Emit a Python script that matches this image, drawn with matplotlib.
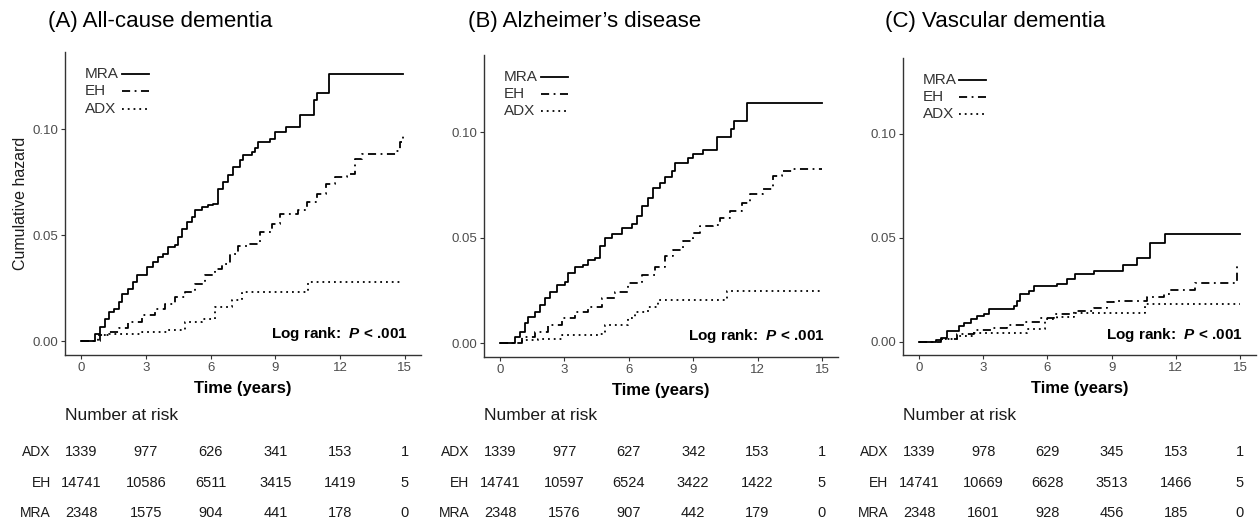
import matplotlib
matplotlib.use('Agg')
import matplotlib.pyplot as plt
from matplotlib.transforms import blended_transform_factory

plt.rcParams['font.family'] = ['Liberation Sans', 'DejaVu Sans']
plt.rcParams['mathtext.fontset'] = 'custom'
plt.rcParams['mathtext.bfit'] = 'Liberation Sans:italic:bold'
plt.rcParams['mathtext.rm'] = 'Liberation Sans'

# cumulative hazard curves (time in years, hazard)
# (A) all-cause dementia
a_mra_t = [0, 0.49, 0.65, 0.88, 1.11, 1.27, 1.5, 1.73, 1.88, 2.19, 2.42, 2.58, 3.04, 3.35, 3.58, 3.81, 4.04,
           4.35, 4.5, 4.66, 4.89, 5.12, 5.28, 5.59, 5.9, 6.13, 6.36, 6.59, 6.82, 7.05, 7.36, 7.52, 7.9, 8.06,
           8.21, 8.75, 8.98, 9.49, 10.14, 10.79, 10.94, 11.49, 14.92]
a_mra_h = [0, 0, 0.0036, 0.0068, 0.0107, 0.0138, 0.0154, 0.0185, 0.0225, 0.0248, 0.028, 0.0311, 0.035, 0.0374,
           0.0398, 0.0413, 0.0445, 0.0453, 0.0492, 0.0531, 0.0563, 0.0587, 0.0618, 0.0634, 0.0642, 0.065, 0.072,
           0.0752, 0.0783, 0.082, 0.0854, 0.0877, 0.0893, 0.0913, 0.094, 0.0955, 0.0987, 0.1011, 0.1066, 0.1137,
           0.1173, 0.126, 0.126]
a_eh_t = [0, 0.49, 0.88, 1.27, 1.73, 2.19, 2.81, 3.43, 3.89, 4.35, 4.81, 5.28, 5.74, 6.2, 6.51, 6.9, 7.28, 7.75,
          8.29, 8.83, 9.21, 10.06, 10.45, 10.91, 11.37, 11.76, 12.3, 12.69, 13.0, 14.61, 14.77, 14.92]
a_eh_h = [0, 0, 0.0028, 0.0044, 0.0063, 0.0091, 0.0123, 0.0154, 0.0178, 0.0209, 0.0233, 0.0272, 0.0311, 0.0343,
          0.0366, 0.0413, 0.045, 0.0461, 0.0516, 0.0555, 0.0599, 0.0618, 0.0657, 0.0697, 0.0744, 0.0775, 0.0791,
          0.0862, 0.0885, 0.0898, 0.094, 0.0983]
a_adx_t = [0, 0.57, 0.8, 1.27, 2.81, 4.04, 4.81, 5.59, 6.2, 6.98, 7.44, 10.52, 14.92]
a_adx_h = [0, 0, 0.0028, 0.0036, 0.0044, 0.0052, 0.0091, 0.0107, 0.0162, 0.0193, 0.0233, 0.0278, 0.0278]

# (B) alzheimer's disease
b_mra_t = [0, 0.54, 0.7, 0.93, 1.16, 1.32, 1.63, 1.86, 2.1, 2.33, 2.64, 3.03, 3.18, 3.49, 3.88, 4.11, 4.42,
           4.66, 4.89, 5.2, 5.67, 6.13, 6.37, 6.6, 6.91, 7.14, 7.45, 7.69, 8.0, 8.15, 8.77, 9.0, 9.47, 10.12,
           10.75, 10.9, 11.49, 15.0]
b_mra_h = [0, 0, 0.003, 0.0054, 0.0094, 0.0125, 0.0149, 0.0181, 0.0213, 0.0244, 0.0276, 0.0292, 0.0332, 0.0363,
           0.0371, 0.0395, 0.0406, 0.0459, 0.0498, 0.0517, 0.0546, 0.0565, 0.0601, 0.0649, 0.0689, 0.0737, 0.076,
           0.0789, 0.0816, 0.0852, 0.0875, 0.0895, 0.0916, 0.0978, 0.1014, 0.1051, 0.1138, 0.1138]
b_eh_t = [0, 0.62, 1.01, 1.63, 2.25, 2.87, 3.49, 4.11, 4.74, 5.36, 5.98, 6.6, 7.22, 7.69, 8.07, 8.54, 9.0, 9.32,
          9.94, 10.25, 10.71, 11.26, 11.64, 12.26, 12.73, 13.12, 13.66, 15.0]
b_eh_h = [0, 0, 0.003, 0.0054, 0.0086, 0.0118, 0.0146, 0.0173, 0.0213, 0.0244, 0.0284, 0.0324, 0.0363, 0.0415,
          0.0443, 0.0482, 0.0522, 0.0557, 0.0562, 0.0594, 0.0625, 0.0665, 0.0705, 0.0732, 0.0792, 0.0816, 0.0824,
          0.0824]
b_adx_t = [0, 0.62, 1.01, 1.78, 2.87, 4.66, 4.89, 5.98, 6.29, 6.91, 7.37, 10.56, 15.0]
b_adx_h = [0, 0, 0.0014, 0.0022, 0.0041, 0.0046, 0.0086, 0.0118, 0.0149, 0.0173, 0.0207, 0.0248, 0.0248]

# (C) vascular dementia
c_mra_t = [0, 0.54, 0.78, 1.01, 1.32, 1.87, 2.1, 2.41, 2.72, 3.03, 3.26, 4.43, 4.59, 4.74, 5.13, 5.36, 6.45,
           6.92, 7.3, 8.16, 9.53, 10.18, 10.8, 11.5, 15.0]
c_mra_h = [0, 0, 0.0008, 0.0019, 0.0051, 0.0075, 0.0091, 0.0107, 0.0123, 0.0131, 0.0155, 0.0171, 0.0196, 0.0228,
           0.0244, 0.0268, 0.0276, 0.03, 0.0324, 0.034, 0.0367, 0.0404, 0.0476, 0.0516, 0.0516]
c_eh_t = [0, 0.47, 1.01, 1.79, 2.56, 3.34, 4.12, 4.9, 5.67, 6.3, 7.23, 8.16, 8.78, 9.09, 10.65, 11.43, 11.74,
          12.9, 14.84, 14.9]
c_eh_h = [0, 0, 0.0014, 0.0035, 0.0054, 0.0063, 0.0079, 0.0095, 0.0115, 0.0131, 0.0147, 0.0163, 0.0188, 0.0196,
          0.0216, 0.0228, 0.0247, 0.028, 0.0364, 0.0364]
c_adx_t = [0, 0.54, 1.01, 1.79, 2.56, 5.05, 5.91, 6.45, 7.23, 10.57, 15.0]
c_adx_h = [0, 0, 0.0011, 0.0027, 0.004, 0.0059, 0.0107, 0.012, 0.0139, 0.018, 0.018]

# number at risk
risk_times = [0, 3, 6, 9, 12, 15]
a_risk_adx = [1339, 977, 626, 341, 153, 1]
a_risk_eh = [14741, 10586, 6511, 3415, 1419, 5]
a_risk_mra = [2348, 1575, 904, 441, 178, 0]
b_risk_adx = [1339, 977, 627, 342, 153, 1]
b_risk_eh = [14741, 10597, 6524, 3422, 1422, 5]
b_risk_mra = [2348, 1576, 907, 442, 179, 0]
c_risk_adx = [1339, 978, 629, 345, 153, 1]
c_risk_eh = [14741, 10669, 6628, 3513, 1466, 5]
c_risk_mra = [2348, 1601, 928, 456, 185, 0]

titles = ['(A) All-cause dementia', '(B) Alzheimer\u2019s disease', '(C) Vascular dementia']
groups = ['MRA', 'EH', 'ADX']
styles = {'MRA': '-', 'EH': (0, (4.5, 2.5, 1, 2.5)), 'ADX': (0, (1, 2.2))}

panels = [
    {'MRA': (a_mra_t, a_mra_h), 'EH': (a_eh_t, a_eh_h), 'ADX': (a_adx_t, a_adx_h),
     'risk': [a_risk_adx, a_risk_eh, a_risk_mra]},
    {'MRA': (b_mra_t, b_mra_h), 'EH': (b_eh_t, b_eh_h), 'ADX': (b_adx_t, b_adx_h),
     'risk': [b_risk_adx, b_risk_eh, b_risk_mra]},
    {'MRA': (c_mra_t, c_mra_h), 'EH': (c_eh_t, c_eh_h), 'ADX': (c_adx_t, c_adx_h),
     'risk': [c_risk_adx, c_risk_eh, c_risk_mra]},
]

W, H = 1260, 525
# axes boxes in pixels: left, right, top, bottom
boxes = [(65, 421, 52, 355), (484, 838, 55, 357), (903, 1256, 58, 355)]
title_x = [48, 468, 885]
risk_rows = ['ADX', 'EH', 'MRA']
risk_y = [452, 483, 513]

fig = plt.figure(figsize=(12.6, 5.25), dpi=100)

for i, p in enumerate(panels):
    l, r, t, b = boxes[i]
    ax = fig.add_axes([l / W, 1 - b / H, (r - l) / W, (b - t) / H])

    for g in groups:
        tt, hh = p[g]
        ax.step(tt, hh, where='post', color='black', lw=1.3, linestyle=styles[g])

    ax.set_xlim(-0.75, 15.75)
    ax.set_ylim(-0.0065, 0.1365)
    ax.set_xticks([0, 3, 6, 9, 12, 15])
    ax.set_yticks([0, 0.05, 0.10])
    ax.set_yticklabels(['0.00', '0.05', '0.10'])
    for s in ['top', 'right']:
        ax.spines[s].set_visible(False)
    for s in ['left', 'bottom']:
        ax.spines[s].set_color('#333333')
        ax.spines[s].set_linewidth(1.0)
    ax.tick_params(direction='out', length=3, width=0.8, color='#333333',
                   labelcolor='#4D4D4D', labelsize=9.5, pad=2)
    ax.set_xlabel('Time (years)', fontsize=12, fontweight='bold', labelpad=5)
    if i == 0:
        ax.set_ylabel('Cumulative hazard', fontsize=11.5, color='#1a1a1a', labelpad=3)

    # legend: label on the left, line sample on the right
    for k, g in enumerate(groups):
        yy = 0.927 - k * 0.057
        ax.text(0.056, yy, g, transform=ax.transAxes, fontsize=11, color='#333333', va='center', ha='left')
        ax.plot([0.16, 0.236], [yy, yy], transform=ax.transAxes, color='black', lw=1.3,
                linestyle=styles[g], clip_on=False)

    ax.text(0.963, 0.069, r'Log rank:  $\mathbfit{P}$ < .001', transform=ax.transAxes,
            fontsize=11, fontweight='bold', ha='right', va='center')

    fig.text(title_x[i] / W, 1 - 21 / H, titles[i], fontsize=16, ha='left', va='center')

    # number at risk table
    tr = blended_transform_factory(ax.transData, fig.transFigure)
    tr_ax = blended_transform_factory(ax.transAxes, fig.transFigure)
    ax.text(0, 1 - 416 / H, 'Number at risk', transform=tr_ax, fontsize=12.5,
            color='#1a1a1a', ha='left', va='center', clip_on=False)
    for row, name in enumerate(risk_rows):
        yf = 1 - risk_y[row] / H
        ax.annotate(name, xy=(0, yf), xycoords=tr, xytext=(-22, 0), textcoords='offset points',
                    ha='right', va='center', fontsize=10, color='#1a1a1a', annotation_clip=False)
        for x, n in zip(risk_times, p['risk'][row]):
            ax.text(x, yf, str(n), transform=tr, fontsize=10.5, color='#1a1a1a',
                    ha='center', va='center', clip_on=False)

fig.savefig('out.png', dpi=100)
